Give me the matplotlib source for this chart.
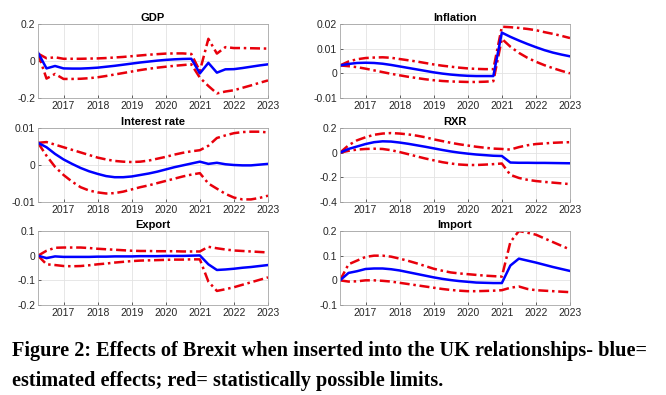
import numpy as np
import matplotlib
matplotlib.use('Agg')
from matplotlib import pyplot as plt

# quarterly horizon 2016Q2 .. 2023Q1
quarters = np.arange(2016.25, 2023.001, 0.25)
years = [2017, 2018, 2019, 2020, 2021, 2022, 2023]

gdp = [0.045, -0.04, -0.027, -0.04, -0.041, -0.041, -0.039, -0.036, -0.031, -0.026, -0.02, -0.014, -0.008, -0.003,
       0.002, 0.006, 0.009, 0.011, 0.012, -0.067, -0.01, -0.063, -0.045, -0.044, -0.038, -0.031, -0.024, -0.018]
gdp_hi = [0.04, 0.015, 0.02, 0.012, 0.012, 0.012, 0.013, 0.014, 0.016, 0.019, 0.022, 0.026, 0.03, 0.034,
          0.037, 0.04, 0.041, 0.041, 0.038, -0.055, 0.12, 0.04, 0.075, 0.07, 0.07, 0.069, 0.068, 0.067]
gdp_lo = [0.04, -0.095, -0.07, -0.097, -0.097, -0.096, -0.093, -0.088, -0.081, -0.073, -0.065, -0.057, -0.049, -0.042,
          -0.036, -0.031, -0.026, -0.022, -0.018, -0.09, -0.135, -0.175, -0.165, -0.158, -0.145, -0.132, -0.118, -0.105]

infl = [0.0032, 0.0038, 0.0042, 0.0043, 0.0042, 0.0039, 0.0034, 0.0028, 0.0022, 0.0016, 0.001, 0.0004, -0.0001, -0.0005,
        -0.0008, -0.001, -0.0011, -0.0011, -0.0011, 0.0165, 0.0148, 0.0133, 0.0119, 0.0106, 0.0094, 0.0084, 0.0076, 0.0069]
infl_hi = [0.0032, 0.0048, 0.0057, 0.0062, 0.0064, 0.0065, 0.0063, 0.0058, 0.0053, 0.0048, 0.0042, 0.0036, 0.0031, 0.0027,
           0.0023, 0.002, 0.0018, 0.0017, 0.0017, 0.0189, 0.0187, 0.0184, 0.018, 0.0175, 0.0167, 0.016, 0.0152, 0.0143]
infl_lo = [0.0032, 0.0029, 0.0025, 0.0019, 0.0012, 0.0005, -0.0002, -0.0008, -0.0014, -0.0019, -0.0024, -0.0028, -0.0031, -0.0033,
           -0.0034, -0.0035, -0.0035, -0.0034, -0.0032, 0.014, 0.0108, 0.0083, 0.0063, 0.0047, 0.0033, 0.0021, 0.001, 0.0]

rate = [0.006, 0.0048, 0.003, 0.0015, 0.0003, -0.0008, -0.0017, -0.0024, -0.003, -0.0033, -0.0033, -0.0031, -0.0027, -0.0023,
        -0.0018, -0.0012, -0.0006, -0.0001, 0.0004, 0.0009, 0.0003, 0.0006, 0.0002, 0.0, -0.0001, -0.0001, 0.0001, 0.0003]
rate_hi = [0.006, 0.0062, 0.0055, 0.0048, 0.0041, 0.0034, 0.0027, 0.002, 0.0015, 0.0011, 0.0009, 0.0008, 0.0009, 0.0012,
           0.0017, 0.0022, 0.0028, 0.0033, 0.0037, 0.004, 0.0052, 0.0073, 0.008, 0.0086, 0.0089, 0.009, 0.009, 0.0088]
rate_lo = [0.006, 0.0025, -0.0005, -0.0027, -0.0045, -0.006, -0.0069, -0.0074, -0.0077, -0.0076, -0.0072, -0.0066, -0.006, -0.0055,
           -0.0049, -0.0043, -0.0037, -0.0031, -0.0026, -0.0022, -0.005, -0.0064, -0.0078, -0.0088, -0.0093, -0.0093, -0.0089, -0.0083]

rxr = [0.0, 0.03, 0.05, 0.07, 0.085, 0.092, 0.09, 0.082, 0.072, 0.06, 0.048, 0.035, 0.022, 0.01,
       0.0, -0.008, -0.015, -0.02, -0.025, -0.027, -0.08, -0.082, -0.082, -0.083, -0.083, -0.084, -0.085, -0.086]
rxr_hi = [0.0, 0.06, 0.1, 0.125, 0.145, 0.155, 0.159, 0.155, 0.148, 0.138, 0.125, 0.108, 0.094, 0.08,
          0.068, 0.058, 0.048, 0.04, 0.033, 0.03, 0.025, 0.045, 0.06, 0.07, 0.075, 0.08, 0.083, 0.085]
rxr_lo = [0.0, 0.015, 0.025, 0.03, 0.032, 0.03, 0.02, 0.005, -0.012, -0.03, -0.047, -0.062, -0.077, -0.088,
          -0.096, -0.1, -0.1, -0.097, -0.093, -0.088, -0.18, -0.205, -0.22, -0.23, -0.237, -0.243, -0.249, -0.255]

exp_ = [0.0, -0.01, -0.003, -0.005, -0.005, -0.005, -0.005, -0.004, -0.004, -0.003, -0.003, -0.003, -0.002, -0.002,
        -0.002, -0.001, -0.001, -0.001, 0.0, 0.001, -0.035, -0.058, -0.056, -0.053, -0.049, -0.046, -0.042, -0.038]
exp_hi = [0.0, 0.02, 0.032, 0.033, 0.033, 0.033, 0.031, 0.028, 0.026, 0.024, 0.022, 0.02, 0.019, 0.019,
          0.018, 0.018, 0.018, 0.017, 0.017, 0.017, 0.036, 0.03, 0.025, 0.021, 0.019, 0.017, 0.015, 0.013]
exp_lo = [0.0, -0.035, -0.038, -0.042, -0.043, -0.042, -0.039, -0.035, -0.032, -0.028, -0.025, -0.022, -0.02, -0.019,
          -0.018, -0.017, -0.016, -0.016, -0.015, -0.015, -0.105, -0.143, -0.136, -0.128, -0.118, -0.108, -0.098, -0.088]

imp = [0.0, 0.03, 0.037, 0.046, 0.048, 0.048, 0.045, 0.04, 0.033, 0.026, 0.019, 0.012, 0.006, 0.001,
       -0.003, -0.006, -0.009, -0.01, -0.011, -0.011, 0.06, 0.088, 0.08, 0.072, 0.063, 0.054, 0.046, 0.038]
imp_hi = [0.0, 0.065, 0.08, 0.095, 0.1, 0.1, 0.096, 0.088, 0.079, 0.069, 0.058, 0.047, 0.039, 0.032,
          0.028, 0.025, 0.022, 0.019, 0.017, 0.015, 0.155, 0.2, 0.193, 0.185, 0.17, 0.155, 0.14, 0.125]
imp_lo = [0.0, -0.005, -0.004, 0.0, 0.0, -0.002, -0.005, -0.01, -0.015, -0.02, -0.025, -0.03, -0.035, -0.039,
          -0.042, -0.044, -0.044, -0.043, -0.042, -0.04, -0.03, -0.025, -0.035, -0.04, -0.042, -0.044, -0.046, -0.048]

panels = [
    ('GDP', gdp, gdp_hi, gdp_lo, [-0.2, 0, 0.2], ['-0.2', '0', '0.2']),
    ('Inflation', infl, infl_hi, infl_lo, [-0.01, 0, 0.01, 0.02], ['-0.01', '0', '0.01', '0.02']),
    ('Interest rate', rate, rate_hi, rate_lo, [-0.01, 0, 0.01], ['-0.01', '0', '0.01']),
    ('RXR', rxr, rxr_hi, rxr_lo, [-0.4, -0.2, 0, 0.2], ['-0.4', '-0.2', '0', '0.2']),
    ('Export', exp_, exp_hi, exp_lo, [-0.2, -0.1, 0, 0.1], ['-0.2', '-0.1', '0', '0.1']),
    ('Import', imp, imp_hi, imp_lo, [-0.1, 0, 0.1, 0.2], ['-0.1', '0', '0.1', '0.2']),
]

plt.rcParams['font.family'] = ['Liberation Sans', 'DejaVu Sans']
fig = plt.figure(figsize=(6.66, 3.95), dpi=100)

lefts = [38 / 666, 340 / 666]
bottoms = [1 - 98 / 395, 1 - 202 / 395, 1 - 305 / 395]
w, h = 230 / 666, 74 / 395
dashdot = (0, (4, 1.5, 1, 1.5))

for i, (title, mid, hi, lo, yt, ytl) in enumerate(panels):
    ax = fig.add_axes([lefts[i % 2], bottoms[i // 2], w, h])
    ax.plot(quarters, hi, color='#e8000b', lw=1.8, ls=dashdot)
    ax.plot(quarters, lo, color='#e8000b', lw=1.8, ls=dashdot)
    ax.plot(quarters, mid, color='#0000ff', lw=1.8)
    ax.set_xlim(2016.25, 2023)
    ax.set_ylim(yt[0], yt[-1])
    ax.set_xticks(years)
    ax.set_yticks(yt)
    ax.set_yticklabels(ytl)
    ax.grid(True, color='#e3e3e3', lw=0.6)
    ax.tick_params(labelsize=7.5, colors='#262626', direction='in', length=2, width=0.5, pad=2)
    for s in ax.spines.values():
        s.set_color('#a6a6a6')
        s.set_linewidth(0.6)
    ax.set_title(title, fontsize=8, fontweight='bold', pad=2)

fig.text(0.018, 1 - 351 / 395, 'Figure 2: Effects of Brexit when inserted into the UK relationships- blue=',
         family='Liberation Serif', fontweight='bold', fontsize=14.6, va='center')
fig.text(0.018, 1 - 381 / 395, 'estimated effects; red= statistically possible limits.',
         family='Liberation Serif', fontweight='bold', fontsize=14.6, va='center')

fig.savefig('out.png', dpi=100)
